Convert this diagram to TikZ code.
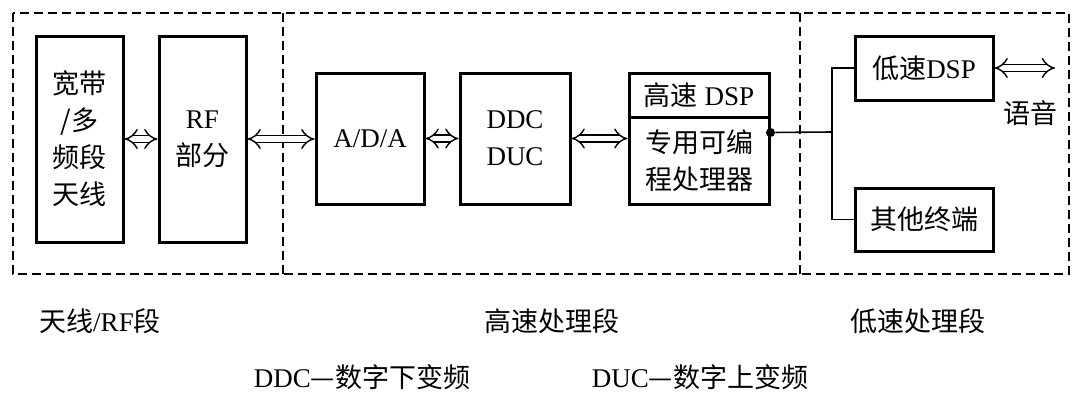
\documentclass[tikz,border=0pt]{standalone}
\usepackage{fontspec}
\setmainfont{Liberation Serif}
\newfontfamily\cjk{Noto Sans CJK SC}
\usetikzlibrary{positioning,arrows.meta}
\newcommand{\zh}[1]{{\cjk #1}}
\tikzset{
  block/.style={rectangle,draw=black,line width=1.5pt,align=center,inner sep=0pt,font=\fontsize{13.5}{18.5}\selectfont},
  zone/.style={draw=black,line width=0.7pt,dash pattern=on 4.5pt off 2.5pt},
  wire/.style={draw=black,line width=0.8pt},
  dblarrow/.style={double,double distance=2.8pt,line width=0.7pt,{Implies[scale=1.5]}-{Implies[scale=1.5]}},
  dot/.style={circle,fill=black,inner sep=0pt,minimum size=4.5pt},
  caption/.style={font=\fontsize{13.5}{18.5}\selectfont,inner sep=0pt}
}
\begin{document}
\begin{tikzpicture}[x=0.5pt,y=-0.5pt]
  \useasboundingbox (0,0) rectangle (1080,407);
  % three zones
  \draw[zone] (13,13) rectangle (1069,274);
  \draw[zone] (283,13) -- (283,274);
  \draw[zone] (800,13) -- (800,274);
  % blocks
  \node[block,minimum width=43.5pt,minimum height=103pt] (ant) at (79.5,139) {\zh{宽带}\\\zh{/多}\\\zh{频段}\\\zh{天线}};
  \node[block,minimum width=43.5pt,minimum height=103pt] (rf) at (202.5,139) {RF\\\zh{部分}};
  \node[block,minimum width=54pt,minimum height=65.5pt] (ada) at (370,138.5) {A/D/A};
  \node[block,minimum width=55pt,minimum height=65.5pt] (ddc) at (515,138.5) {DDC\\DUC};
  \node[block,minimum width=70pt,minimum height=22pt] (dsphi) at (699,95) {\zh{高速} DSP};
  \node[block,minimum width=70pt,minimum height=43.5pt] (dsplo) at (699,160.5) {\zh{专用可编}\\\zh{程处理器}};
  \node[block,minimum width=69pt,minimum height=32pt] (lowdsp) at (924,68) {\zh{低速}DSP};
  \node[block,minimum width=69pt,minimum height=31.5pt] (other) at (924,219.5) {\zh{其他终端}};
  % links
  \draw[dblarrow] (ant.east) -- (rf.west);
  \draw[dblarrow] (rf.east) -- (rf.east -| ada.west);
  \draw[dblarrow] (ada.east) -- (ddc.west);
  \draw[dblarrow] (ddc.east) -- (ddc.east -| dsplo.west);
  \node[dot] (tap) at ([yshift=14pt]dsplo.east) {};
  \coordinate (bus) at (832,132);
  \draw[wire] (tap) -- (bus);
  \draw[wire] (lowdsp.west) -| (bus) |- (other.west);
  \coordinate (voice) at (1055,68);
  \draw[dblarrow] (lowdsp.east) -- (voice);
  \node[caption] (voicetxt) at (1030,113) {\zh{语音}};
  % zone names and notes
  \node[caption] (zone1) at (100,321) {\zh{天线}/RF\zh{段}};
  \node[caption] (zone2) at (552,321) {\zh{高速处理段}};
  \node[caption] (zone3) at (918,321) {\zh{低速处理段}};
  \node[caption] (noteddc) at (362,377) {DDC\zh{—数字下变频}};
  \node[caption] (noteduc) at (700,377) {DUC\zh{—数字上变频}};
\end{tikzpicture}
\end{document}
